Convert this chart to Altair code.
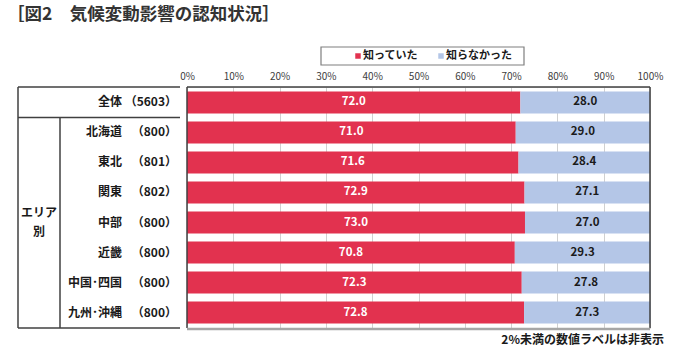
import altair as alt
import pandas as pd

regions = ["全体", "北海道", "東北", "関東", "中部", "近畿", "中国･四国", "九州･沖縄"]
counts = ["（5603）", "（800）", "（801）", "（802）", "（800）", "（800）", "（800）", "（800）"]
knew = [72.0, 71.0, 71.6, 72.9, 73.0, 70.8, 72.3, 72.8]
didnt = [28.0, 29.0, 28.4, 27.1, 27.0, 29.3, 27.8, 27.3]
series = ["知っていた", "知らなかった"]
colors = ["#E2324F", "#B4C6E7"]
title_text = "［図2　気候変動影響の認知状況］"
note_text = "2%未満の数値ラベルは非表示"
group_label = ["エリア", "別"]

FONT = "Noto Sans CJK JP"
W, H = 463, 241

df = pd.DataFrame({
    "region": regions,
    "count": counts,
    "knew": knew,
    "didnt": didnt,
})
df["total"] = df["knew"] + df["didnt"]
df["mid1"] = df["knew"] / 2
df["mid2"] = df["knew"] + df["didnt"] / 2

one = pd.DataFrame({"k": [0]})

yenc = alt.Y("region:N", sort=regions, axis=None,
             scale=alt.Scale(paddingInner=0.27, paddingOuter=0.15))
xscale = alt.Scale(domain=[0, 100], nice=False, zero=True)

base = alt.Chart(df)

bar1 = base.mark_bar(color=colors[0]).encode(
    x=alt.X("knew:Q", scale=xscale, title=None,
            axis=alt.Axis(orient="top", values=list(range(0, 101, 10)),
                          labelExpr="datum.value + '%'", labelFlush=False,
                          domain=False, ticks=False, labelPadding=6,
                          labelFont=FONT, labelFontSize=10, labelColor="#404040",
                          gridColor="#d0d0d0", grid=True)),
    y=yenc,
)
bar2 = base.mark_bar(color=colors[1]).encode(
    x="knew:Q", x2="total:Q", y=yenc,
)
lab1 = base.mark_text(color="white", font=FONT, fontSize=11.5, fontWeight="bold").encode(
    x="mid1:Q", y=yenc, text=alt.Text("knew:Q", format=".1f"),
)
lab2 = base.mark_text(color="#1a1a1a", font=FONT, fontSize=11.5, fontWeight="bold").encode(
    x="mid2:Q", y=yenc, text=alt.Text("didnt:Q", format=".1f"),
)
rlab = base.mark_text(align="right", color="#1a1a1a", font=FONT, fontSize=12, fontWeight="bold").encode(
    x=alt.value(-65), y=yenc, text="region:N",
)
clab = base.mark_text(align="right", color="#1a1a1a", font=FONT, fontSize=12, fontWeight="bold").encode(
    x=alt.value(-10), y=yenc, text="count:N",
)

def rule(x, x2, y, y2, color="#404040", sw=1.5):
    return alt.Chart(one).mark_rule(color=color, strokeWidth=sw).encode(
        x=alt.value(x), x2=alt.value(x2), y=alt.value(y), y2=alt.value(y2))

lines = [
    rule(-169, -7, 0, 0),
    rule(-169, -7, 30.5, 30.5),
    rule(-169, -7, H, H),
    rule(-169, -169, 0, H),
    rule(-127, -127, 30.5, H),
    rule(0, W, 0, 0),
    rule(W, W, 0, H),
    rule(0, 0, 0, H),
    rule(0, W, H + 1, H + 1, color="#a6a6a6", sw=2.5),
]

def txt(s, x, y, size=12, align="left", weight="bold", color="#1a1a1a"):
    return alt.Chart(one).mark_text(text=s, align=align, baseline="middle", font=FONT,
                                    fontSize=size, fontWeight=weight, color=color).encode(
        x=alt.value(x), y=alt.value(y))

legend_box = alt.Chart(one).mark_rect(fill="white", stroke="#7f7f7f", strokeWidth=1.2).encode(
    x=alt.value(134), x2=alt.value(337), y=alt.value(-40), y2=alt.value(-22))
sq1 = alt.Chart(one).mark_square(color=colors[0], size=30, opacity=1).encode(
    x=alt.value(171), y=alt.value(-31))
sq2 = alt.Chart(one).mark_square(color=colors[1], size=30, opacity=1).encode(
    x=alt.value(254), y=alt.value(-31))

extras = [
    legend_box, sq1, sq2,
    txt(series[0], 176, -31, size=11),
    txt(series[1], 259, -31, size=11),
    txt(title_text, -180, -72, size=17.5, color="#333333"),
    txt(note_text, 477, 253, size=12, align="right"),
    txt(group_label[0], -148, 126, size=12, align="center"),
    txt(group_label[1], -148, 145, size=12, align="center"),
]

chart = alt.layer(bar1, bar2, lab1, lab2, rlab, clab, *lines, *extras).properties(
    width=W, height=H,
    padding={"left": 187, "top": 87, "right": 25, "bottom": 26},
    autosize=alt.AutoSizeParams(type="none"),
).configure_view(stroke=None).configure(background="white")

chart.save("out.html", embed_options={"renderer": "svg", "actions": False})
